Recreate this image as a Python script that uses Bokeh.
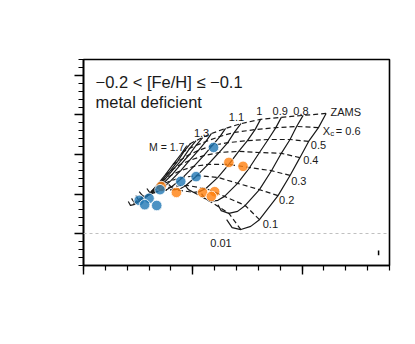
from bokeh.plotting import figure
from bokeh.models import Label, SingleIntervalTicker, CustomJSTickFormatter, Span
from bokeh.embed import file_html
from bokeh.resources import INLINE

# ---- data ----
masses = [0.7, 0.8, 0.9, 1.0, 1.1, 1.2, 1.3, 1.4, 1.5, 1.6, 1.7]
# points along each track: ZAMS, Xc=0.6,0.5,0.4,0.3,0.2,0.1, hook..., end
trk_x = [
    [2.22, 2.15, 2.06, 1.98, 1.89, 1.78, 1.61, 1.53, 1.44, 1.36, 1.31],
    [2.01, 1.95, 1.89, 1.81, 1.72, 1.61, 1.48, 1.41, 1.33, 1.26, 1.23],
    [1.81, 1.76, 1.69, 1.61, 1.52, 1.41, 1.29, 1.23, 1.16, 1.11, 1.08],
    [1.62, 1.57, 1.50, 1.42, 1.33, 1.23, 1.12, 1.06, 1.01, 0.96, 0.93],
    [1.44, 1.38, 1.32, 1.24, 1.14, 1.04, 0.94, 0.89, 0.84, 0.81, 0.78],
    [1.30, 1.25, 1.18, 1.10, 1.01, 0.91, 0.81, 0.76, 0.71, 0.69, 0.67],
    [1.17, 1.12, 1.05, 0.97, 0.89, 0.80, 0.71, 0.66, 0.62, 0.60, 0.58],
    [1.09, 1.03, 0.97, 0.89, 0.81, 0.72, 0.63, 0.59, 0.55, 0.53, 0.51],
    [1.03, 0.97, 0.91, 0.83, 0.75, 0.67, 0.58, 0.54, 0.50, 0.49, 0.48],
    [0.98, 0.92, 0.86, 0.79, 0.71, 0.62, 0.53, 0.49, 0.47, 0.45, 0.44],
    [0.94, 0.89, 0.82, 0.75, 0.67, 0.59, 0.49, 0.46, 0.43, 0.42, 0.41],
]
trk_y = [
    [3.04, 2.68, 2.33, 1.92, 1.47, 0.96, 0.35, 0.18, 0.10, 0.15, 0.35],
    [2.99, 2.71, 2.38, 2.03, 1.59, 1.11, 0.71, 0.56, 0.51, 0.58, 0.73],
    [2.94, 2.68, 2.38, 2.05, 1.67, 1.27, 0.94, 0.84, 0.81, 0.89, 1.01],
    [2.89, 2.63, 2.35, 2.08, 1.75, 1.42, 1.14, 1.06, 1.04, 1.11, 1.22],
    [2.78, 2.56, 2.30, 2.05, 1.75, 1.47, 1.22, 1.14, 1.11, 1.16, 1.24],
    [2.66, 2.46, 2.23, 1.97, 1.70, 1.42, 1.19, 1.11, 1.09, 1.14, 1.22],
    [2.53, 2.33, 2.10, 1.85, 1.59, 1.34, 1.11, 1.04, 1.01, 1.06, 1.14],
    [2.43, 2.23, 2.00, 1.75, 1.49, 1.24, 1.04, 0.96, 0.94, 0.99, 1.06],
    [2.35, 2.15, 1.90, 1.65, 1.39, 1.14, 0.94, 0.89, 0.86, 0.91, 0.96],
    [2.28, 2.08, 1.82, 1.57, 1.32, 1.06, 0.86, 0.81, 0.78, 0.84, 0.89],
    [2.20, 2.00, 1.75, 1.49, 1.22, 0.96, 0.78, 0.73, 0.71, 0.76, 0.81],
]
xc_labels = ["ZAMS", "0.6", "0.5", "0.4", "0.3", "0.2", "0.1", "0.01"]
xc_node = [0, 1, 2, 3, 4, 5, 6, 8]

blue_x = [1.19, 1.03, 0.89, 0.70, 0.60, 0.51, 0.56, 0.67]
blue_y = [2.18, 1.44, 1.32, 1.11, 0.89, 0.84, 0.73, 0.71]
orange_x = [1.33, 1.46, 0.85, 1.09, 1.20, 1.17, 0.71]
orange_y = [1.80, 1.70, 1.04, 1.04, 1.06, 0.94, 1.19]

err_x = [2.70]
err_lo = [-0.55]
err_hi = [-0.43]
ref_level = 0.0

p = figure(frame_width=306, frame_height=206, x_range=(0, 2.8), y_range=(-0.81, 4.405),
           output_backend="svg", toolbar_location=None,
           min_border_left=83, min_border_top=59, min_border_right=8, min_border_bottom=50)
p.title.visible = False
p.grid.visible = False
p.background_fill_color = "white"
p.border_fill_color = "white"
p.outline_line_color = "black"
p.outline_line_width = 1.6

for ax, iv in ((p.xaxis[0], 1), (p.yaxis[0], 1)):
    ax.ticker = SingleIntervalTicker(interval=iv, num_minor_ticks=5)
    ax.formatter = CustomJSTickFormatter(code="return ''")
    ax.major_label_text_font_size = "1px"
    ax.axis_line_color = "black"
    ax.axis_line_width = 1.6
    ax.major_tick_line_color = "black"
    ax.minor_tick_line_color = "black"
    ax.major_tick_line_width = 1.4
    ax.minor_tick_line_width = 1.2
    ax.major_tick_out = 9
    ax.major_tick_in = 0
    ax.minor_tick_out = 5
    ax.minor_tick_in = 0

p.add_layout(Span(location=ref_level, dimension="width", line_color="#c0c0c0",
                  line_dash="3 3", line_width=1.2))

# iso-Xc dashed lines
for j in xc_node:
    xs = [t[j] for t in trk_x]
    ys = [t[j] for t in trk_y]
    p.line(xs, ys, line_color="#1a1a1a", line_dash="5 3", line_width=1.2)
# tracks
for tx, ty in zip(trk_x, trk_y):
    p.line(tx, ty, line_color="#1a1a1a", line_width=1.2)

p.scatter(orange_x, orange_y, size=10.5, fill_color="#ff7f0e", fill_alpha=0.8,
          line_color="white", line_width=0.8)
p.scatter(blue_x, blue_y, size=10.5, fill_color="#1f77b4", fill_alpha=0.8,
          line_color="white", line_width=0.8)

p.segment(x0=err_x, y0=err_lo, x1=err_x, y1=err_hi, line_color="black", line_width=1.5)

FONT = "Liberation Sans"
def lab(x, y, t, size="11px", **kw):
    p.add_layout(Label(x=x, y=y, text=t, text_font=FONT, text_font_size=size,
                       text_color="#1a1a1a", text_baseline="alphabetic", **kw))

lab(0.11, 3.84, "\u22120.2 < [Fe/H] \u2264 \u22120.1", size="16.5px")
lab(0.11, 3.32, "metal deficient", size="16.5px")

lab(2.26, 3.07, "ZAMS")
lab(2.19, 2.59, "X")
lab(2.19, 2.59, "c", size="8px", x_offset=7.5, y_offset=-2.5)
lab(2.19, 2.59, "= 0.6", x_offset=13)
lab(2.08, 2.23, "0.5")
lab(2.01, 1.85, "0.4")
lab(1.90, 1.34, "0.3")
lab(1.79, 0.84, "0.2")
lab(1.64, 0.25, "0.1")
lab(1.16, -0.25, "0.01")
lab(1.92, 3.11, "0.8")
lab(1.73, 3.11, "0.9")
lab(1.58, 3.09, "1")
lab(1.33, 2.94, "1.1")
lab(1.01, 2.54, "1.3")
lab(0.60, 2.18, "M = 1.7", size="10.5px")

open("out.html", "w").write(file_html(p, INLINE))
